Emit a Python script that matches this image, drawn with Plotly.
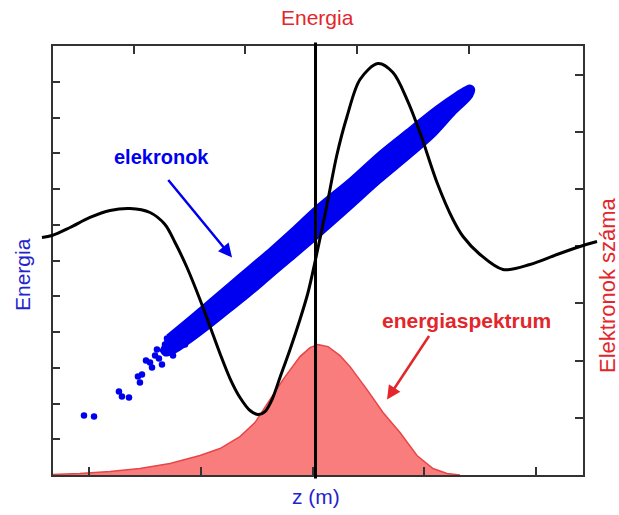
import plotly.graph_objects as go

# ---- black wave curve (z in bottom-axis units, energy in left-axis units)
wave_z = [0.579, 0.669, 0.830, 1.009, 1.188, 1.367, 1.546, 1.680, 1.770, 1.877, 1.993, 2.083,
          2.172, 2.262, 2.351, 2.441, 2.512, 2.575, 2.638, 2.709, 2.799, 2.888, 2.960, 3.031,
          3.130, 3.219, 3.309, 3.425, 3.586, 3.720, 3.846, 3.962, 4.114, 4.257, 4.347, 4.499,
          4.705, 4.946, 5.188, 5.394, 5.546]
wave_e = [6.643, 6.699, 6.923, 7.203, 7.399, 7.455, 7.343, 7.007, 6.503, 5.804, 4.909, 4.154,
          3.399, 2.699, 2.168, 1.804, 1.692, 1.776, 2.112, 2.727, 3.510, 4.350, 5.105, 6.084,
          7.566, 8.965, 10.028, 11.063, 11.510, 11.259, 10.503, 9.580, 8.182, 7.147, 6.671, 6.168,
          5.748, 5.888, 6.168, 6.392, 6.531]

# ---- electron cloud outline (dense band)
band_z = [1.698, 1.904, 2.083, 2.262, 2.441, 2.620, 2.799, 3.031, 3.336, 3.604, 3.872, 4.096,
          4.275, 4.365, 4.409, 4.445,
          4.427, 4.275, 4.096, 3.872, 3.604, 3.336, 3.031, 2.799, 2.620, 2.441, 2.262, 2.083,
          1.904, 1.770, 1.680, 1.635]
band_e = [3.902, 4.434, 4.909, 5.385, 5.860, 6.336, 6.839, 7.510, 8.294, 9.049, 9.720, 10.280,
          10.671, 10.839, 10.895, 10.811,
          10.587, 10.112, 9.497, 8.881, 8.182, 7.427, 6.587, 5.972, 5.497, 5.021, 4.573, 4.126,
          3.706, 3.427, 3.343, 3.510]

# ---- individual electrons in the low-energy tail
dots_z = [0.955, 1.045, 1.268, 1.295, 1.358, 1.438, 1.456, 1.474, 1.510, 1.546, 1.564, 1.608,
          1.626, 1.653, 1.680, 1.698, 1.725, 1.752, 1.787, 1.823, 1.859, 1.591]
dots_e = [1.664, 1.636, 2.336, 2.196, 2.168, 2.755, 2.587, 2.811, 3.203, 3.147, 3.007, 3.510,
          3.259, 3.091, 3.650, 3.818, 3.510, 3.343, 3.706, 3.874, 3.650, 3.343]

# ---- energy spectrum (number of electrons, right axis)
spec_z = [0.669, 0.919, 1.188, 1.456, 1.725, 1.993, 2.172, 2.351, 2.485, 2.593, 2.736, 2.888,
          2.978, 3.049, 3.139, 3.246, 3.336, 3.488, 3.631, 3.783, 3.935, 4.078, 4.204, 4.320]
spec_n = [0.009, 0.026, 0.061, 0.114, 0.201, 0.341, 0.463, 0.672, 0.917, 1.231, 1.668, 2.070,
          2.227, 2.279, 2.245, 2.087, 1.895, 1.493, 1.092, 0.742, 0.341, 0.114, 0.026, 0.0]

z_center = 3.027
bottom_ticks = [1, 2, 3, 4, 5]
top_ticks = [1.4, 2.4, 3.4, 4.4]
left_ticks = list(range(1, 12))
right_ticks = list(range(1, 8))

BLUE = "#0000f0"
TBLUE = "rgb(35,35,205)"
RED = "#e3262b"

fig = go.Figure()
fig.add_trace(go.Scatter(x=spec_z, y=spec_n, xaxis="x", yaxis="y2", mode="lines",
                         fill="tozeroy", fillcolor="rgb(250,125,125)",
                         line=dict(color="rgb(232,70,70)", width=1.5), hoverinfo="skip"))
fig.add_trace(go.Scatter(x=band_z, y=band_e, xaxis="x", yaxis="y", mode="lines",
                         fill="toself", fillcolor=BLUE, line=dict(color=BLUE, width=2, shape="spline"),
                         hoverinfo="skip"))
fig.add_trace(go.Scatter(x=dots_z, y=dots_e, xaxis="x", yaxis="y", mode="markers",
                         marker=dict(color=BLUE, size=6.5), hoverinfo="skip"))
# empty trace so that the top axis (x2) gets drawn
fig.add_trace(go.Scatter(x=[], y=[], xaxis="x2", yaxis="y", mode="markers", hoverinfo="skip"))
fig.add_trace(go.Scatter(x=wave_z, y=wave_e, xaxis="x3", yaxis="y", mode="lines",
                         line=dict(color="black", width=3, shape="spline", smoothing=0.9),
                         hoverinfo="skip"))

fig.add_shape(type="line", xref="x", yref="paper", x0=z_center, x1=z_center, y0=-0.008, y1=1.008,
              line=dict(color="black", width=3))

L, R = 40, 19
W = 619 - L - R
dom = [(52.7 - L) / W, (583 - L) / W]
xr = [0.6752, 5.4206]
x3r = [xr[0] - (52.7 - L) / 111.75, xr[1] + (619 - R - 583) / 111.75]

ax_common = dict(showline=True, linecolor="#333", linewidth=1.5, ticks="inside", ticklen=8,
                 tickwidth=1.5, tickcolor="#333", showticklabels=False, showgrid=False,
                 zeroline=False, fixedrange=True)

fig.update_layout(
    width=619, height=515, margin=dict(l=L, r=R, t=46, b=40),
    plot_bgcolor="rgba(0,0,0,0)", paper_bgcolor="white", showlegend=False,
    font=dict(family="Liberation Sans, Arial, sans-serif"),
    xaxis=dict(domain=dom, range=xr, tickvals=bottom_ticks, anchor="y", **ax_common),
    xaxis2=dict(domain=dom, range=xr, tickvals=top_ticks, overlaying="x", side="top",
                anchor="y", **ax_common),
    xaxis3=dict(domain=[0, 1], range=x3r, anchor="y", visible=False, fixedrange=True),
    yaxis=dict(domain=[0, 1], range=[0, 12], tickvals=left_ticks, anchor="x", **ax_common),
    yaxis2=dict(range=[0, 7.5], tickvals=right_ticks, overlaying="y", side="right",
                anchor="x", **ax_common),
)

def pxx(px):
    return (px - L) / W

def pyy(py):
    return (475 - py) / 429

anns = [
    dict(text="Energia", x=pxx(317), y=pyy(18), font=dict(color=RED, size=21)),
    dict(text="z (m)", x=pxx(316), y=pyy(496), font=dict(color=TBLUE, size=21)),
    dict(text="Energia", x=pxx(22), y=pyy(275), textangle=-90, font=dict(color=TBLUE, size=21)),
    dict(text="Elektronok száma", x=pxx(607), y=pyy(285), textangle=-90,
         font=dict(color=RED, size=22)),
]
for a in anns:
    fig.add_annotation(xref="paper", yref="paper", showarrow=False, xanchor="center",
                       yanchor="middle", **a)

fig.add_annotation(text="<b>elekronok</b>", x=1.653, y=8.909, xref="x", yref="y", showarrow=False,
                   font=dict(color=BLUE, size=20))
fig.add_annotation(text="<b>energiaspektrum</b>", x=4.374, y=4.322, xref="x", yref="y",
                   showarrow=False, font=dict(color=RED, size=21))
fig.add_annotation(text="", x=2.280, y=6.084, xref="x", yref="y", showarrow=True, ax=-65, ay=-79,
                   arrowhead=2, arrowsize=1.1, arrowwidth=2.5, arrowcolor=BLUE)
fig.add_annotation(text="", x=3.667, y=2.112, xref="x", yref="y", showarrow=True, ax=43, ay=-65,
                   arrowhead=2, arrowsize=1.1, arrowwidth=2.5, arrowcolor=RED)

fig.write_html("out.html")
